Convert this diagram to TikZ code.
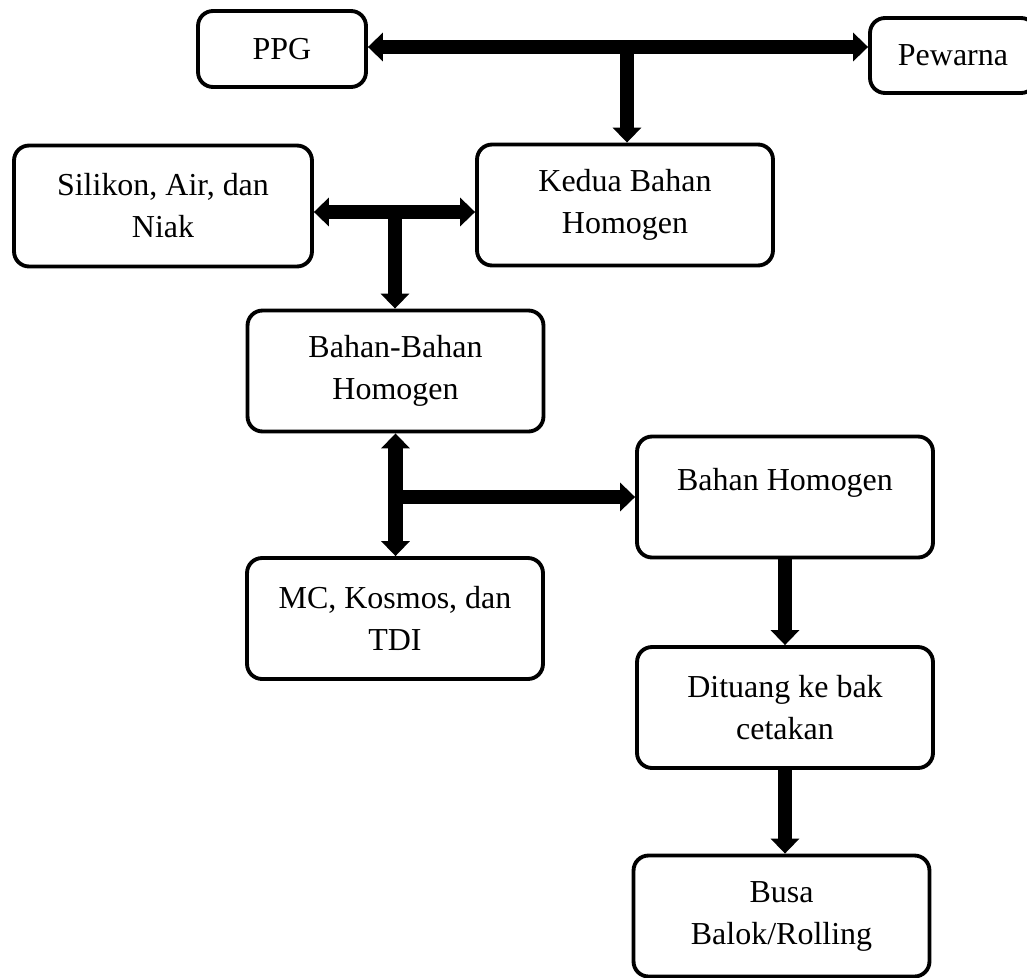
\documentclass[tikz,border=0pt]{standalone}
\usepackage{fontspec}
\setmainfont{Liberation Serif}
\usetikzlibrary{positioning,arrows.meta,calc}

\tikzset{
  box/.style={draw, line width=2.2pt, rounded corners=0.3cm, align=center, inner sep=0pt,
    minimum width=5.92cm, minimum height=2.42cm, font=\fontsize{18.2}{23.9}\selectfont},
  lbl/.style={font=\fontsize{18.2}{23.9}\selectfont, inner sep=0pt},
  flow/.style={line width=8pt, -{Triangle[width=0.56cm,length=0.3cm]}},
  flowboth/.style={line width=8pt, {Triangle[width=0.56cm,length=0.3cm]}-{Triangle[width=0.56cm,length=0.3cm]}},
}

\begin{document}
\begin{tikzpicture}[x=0.02cm, y=-0.02cm]
    \path[use as bounding box, clip] (0,0) rectangle (1027,977);

    % boxes
    \node [box, minimum width=3.36cm, minimum height=1.52cm] (ppg) at (282,49) {PPG};
    \node [box, minimum width=3.32cm, minimum height=1.5cm] (pewarna) at (953,55.5) {Pewarna};
    \node [box] (kedua) at (625,205) {Kedua Bahan\\Homogen};
    \node [box, minimum width=5.96cm] (silikon) at (163,206) {Silikon, Air, dan\\Niak};
    \node [box] (bahan) at (395.5,371) {Bahan-Bahan\\Homogen};
    \node [box] (homogen) at (785,497) {};
    \node [lbl] (homogentxt) at (785,483) {Bahan Homogen};
    \node [box] (mc) at (395,618.5) {MC, Kosmos, dan\\TDI};
    \node [box] (dituang) at (785,707.5) {Dituang ke bak\\cetakan};
    \node [box] (busa) at (781.5,916) {Busa\\Balok/Rolling};

    % junctions
    \coordinate (top) at (627,47);
    \coordinate (mid) at (395,212);
    \coordinate (low) at (bahan.south |- 0,497);

    % connectors
    \draw[flowboth] (top -| ppg.east) -- (top -| pewarna.west);
    \draw[flow] (top) -- (top |- kedua.north);
    \draw[flowboth] (mid -| silikon.east) -- (mid -| kedua.west);
    \draw[flow] (mid) -- (mid |- bahan.north);
    \draw[flowboth] (bahan.south) -- (bahan.south |- mc.north);
    \draw[flow] (low) -- (low -| homogen.west);
    \draw[flow] (homogen.south) -- (homogen.south |- dituang.north);
    \draw[flow] (dituang.south) -- (dituang.south |- busa.north);
\end{tikzpicture}
\end{document}
